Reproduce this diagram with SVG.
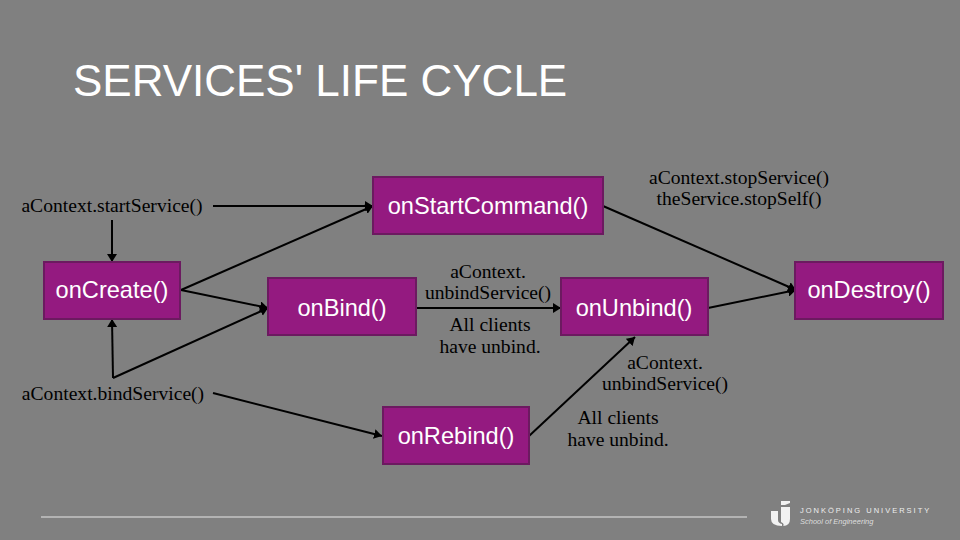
<svg xmlns="http://www.w3.org/2000/svg" width="960" height="540" viewBox="0 0 960 540">
<style>
.n{fill:#941a80;stroke:#6c1a60;stroke-width:2}
.nt{font-family:"Liberation Sans",Arial,sans-serif;font-size:23.6px;fill:#fff;text-anchor:middle}
.l{font-family:"Liberation Serif","Times New Roman",serif;font-size:19.6px;fill:#000;text-anchor:middle}
.c{fill:none;stroke:#000;stroke-width:2}
</style>
<defs>
<marker id="a" markerUnits="userSpaceOnUse" markerWidth="9" markerHeight="10" refX="8" refY="5" orient="auto"><path d="M0 0L8 5L0 10z" fill="#000"/></marker>
</defs>
<rect width="960" height="540" fill="#808080"/>
<text x="73" y="96" font-family="'Liberation Sans',Arial,sans-serif" font-size="44px" fill="#fff">SERVICES' LIFE CYCLE</text>
<g id="connectors">
<path class="c" marker-end="url(#a)" d="M213 206H373"/>
<path class="c" marker-end="url(#a)" d="M112 220V262"/>
<path class="c" marker-end="url(#a)" d="M181 290L373 206"/>
<path class="c" marker-end="url(#a)" d="M181 290L268 308"/>
<path class="c" marker-end="url(#a)" d="M113 378L112 319"/>
<path class="c" marker-end="url(#a)" d="M113 378L268 308"/>
<path class="c" marker-end="url(#a)" d="M213 393L382 436"/>
<path class="c" marker-end="url(#a)" d="M603 206L796 290"/>
<path class="c" marker-end="url(#a)" d="M416 308H561"/>
<path class="c" marker-end="url(#a)" d="M529 436L635 337"/>
<path class="c" marker-end="url(#a)" d="M708 308L796 290"/>
</g>
<g id="onStartCommand"><rect class="n" x="373" y="177" width="230" height="57"/><text class="nt" x="488" y="214">onStartCommand()</text></g>
<g id="onCreate"><rect class="n" x="44" y="262" width="136" height="57"/><text class="nt" x="112" y="298">onCreate()</text></g>
<g id="onBind"><rect class="n" x="268" y="278" width="148" height="57"/><text class="nt" x="342" y="316">onBind()</text></g>
<g id="onUnbind"><rect class="n" x="561" y="278" width="147" height="57"/><text class="nt" x="634" y="316">onUnbind()</text></g>
<g id="onRebind"><rect class="n" x="383" y="407" width="146" height="57"/><text class="nt" x="456" y="444">onRebind()</text></g>
<g id="onDestroy"><rect class="n" x="795" y="262" width="148" height="57"/><text class="nt" x="869" y="298">onDestroy()</text></g>
<g id="labels">
<text class="l" x="112" y="212">aContext.startService()</text>
<text class="l" x="113" y="400">aContext.bindService()</text>
<text class="l" x="488" y="278">aContext.</text>
<text class="l" x="488" y="299">unbindService()</text>
<text class="l" x="490" y="331">All clients</text>
<text class="l" x="490" y="353">have unbind.</text>
<text class="l" x="739" y="184">aContext.stopService()</text>
<text class="l" x="739" y="205">theService.stopSelf()</text>
<text class="l" x="665" y="369">aContext.</text>
<text class="l" x="665" y="390">unbindService()</text>
<text class="l" x="618" y="424">All clients</text>
<text class="l" x="618" y="446">have unbind.</text>
</g>
<path d="M41 517H747" stroke="#e6e6e6" stroke-width="1" fill="none"/>
<g id="logo">
<path d="M771 511H778V520Q778 523 782 524V526Q771 526 771 519Z" fill="#f2f2f2"/>
<path d="M781 501H790V503L785 505H781Z" fill="#f2f2f2"/>
<path d="M781 507H790V519Q790 526 783 526Q785 524 781 522Z" fill="#f2f2f2"/>
<text x="800" y="513" font-family="'Liberation Sans',Arial,sans-serif" font-size="7.5px" letter-spacing="2" fill="#eee">JONKÖPING UNIVERSITY</text>
<text x="800" y="524" font-family="'Liberation Sans',Arial,sans-serif" font-size="7.5px" font-style="italic" fill="#ddd">School of Engineering</text>
</g>
</svg>
